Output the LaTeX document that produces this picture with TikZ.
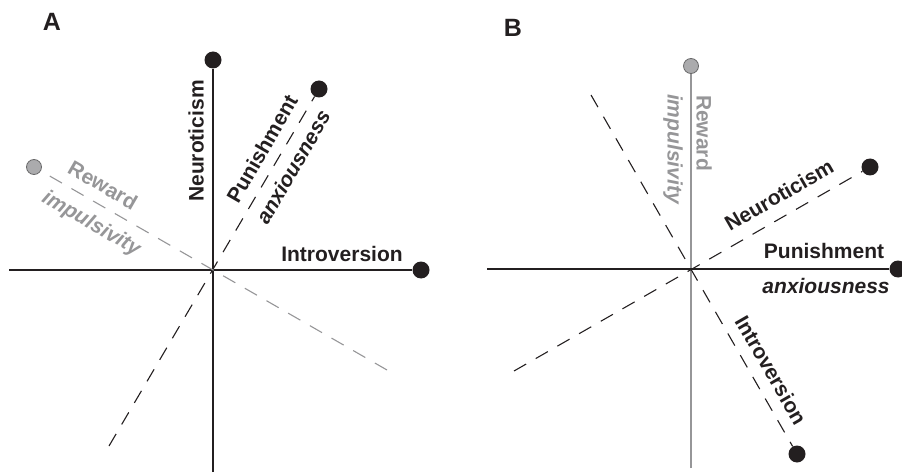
\documentclass[tikz,border=0pt]{standalone}
\usepackage{fontspec}
\setmainfont{Liberation Sans}
\usepackage{tikz}
\usetikzlibrary{positioning}
\definecolor{ink}{RGB}{35,31,32}
\definecolor{pale}{RGB}{150,150,152}
\tikzset{
    dot/.style={circle, fill=ink, inner sep=0pt, minimum size=17pt},
    greydot/.style={circle, fill=pale!80, draw=pale!70!black, line width=0.8pt, inner sep=0pt, minimum size=15pt},
    axisline/.style={draw=ink, line width=1.3pt},
    greyline/.style={draw=pale, line width=1.3pt},
    dashline/.style={draw=ink, line width=1.1pt, dash pattern=on 14pt off 11pt},
    greydash/.style={draw=pale, line width=1.1pt, dash pattern=on 14pt off 11pt},
    lbl/.style={font=\fontsize{21}{25}\selectfont\bfseries, text=ink, inner sep=0pt},
    greylbl/.style={lbl, text=pale},
    panel/.style={font=\fontsize{25}{30}\selectfont\bfseries, text=ink, inner sep=0pt}
}

\begin{document}
\begin{tikzpicture}[x=1pt, y=-1pt]
    \useasboundingbox (0,0) rectangle (902,473);

    % Panel A
    \node[panel] (pA) at (52,22) {A};
    \coordinate (oA) at (213,270);
    \node[dot] (neuA) at (213,60) {};
    \coordinate (neuAend) at (213,472);
    \node[dot] (intA) at (421,270) {};
    \coordinate (intAend) at (9,270);
    \node[dot] (punA) at (319,89) {};
    \coordinate (punAend) at (109,446);
    \node[greydot] (rewA) at (34,167) {};
    \coordinate (rewAend) at (387,370);

    % axes
    \draw[axisline] (neuAend) -- (neuA);
    \draw[axisline] (intAend) -- (intA);
    \draw[dashline] (punAend) -- (punA);
    \draw[greydash] (rewAend) -- (rewA);

    % labels
    \node[lbl, rotate=90] (neuAlbl) at (196,141) {Neuroticism};
    \node[lbl] (intAlbl) at (342,254) {Introversion};
    \node[lbl, rotate=60] (punAlbl) at (262,149) {Punishment};
    \node[lbl, rotate=60, font=\fontsize{21}{25}\selectfont\bfseries\itshape] (anxAlbl) at (293,167) {anxiousness};
    \node[greylbl, rotate=-30] (rewAlbl) at (103,185) {Reward};
    \node[greylbl, rotate=-30, font=\fontsize{21}{25}\selectfont\bfseries\itshape] (impAlbl) at (91,224) {impulsivity};

    % Panel B
    \node[panel] (pB) at (513,28) {B};
    \coordinate (oB) at (691,269);
    \node[greydot] (rewB) at (691,66) {};
    \coordinate (rewBend) at (691,468);
    \node[dot] (punB) at (898,269) {};
    \coordinate (punBend) at (487,269);
    \node[dot] (neuB) at (870,167) {};
    \coordinate (neuBend) at (514,371);
    \node[dot] (intB) at (797,454) {};
    \coordinate (intBend) at (591,95);

    % axes
    \draw[greyline] (rewBend) -- (rewB);
    \draw[axisline] (punBend) -- (punB);
    \draw[dashline] (neuBend) -- (neuB);
    \draw[dashline] (intBend) -- (intB);

    % labels
    \node[greylbl, rotate=-90] (rewBlbl) at (704,133) {Reward};
    \node[greylbl, rotate=-90, font=\fontsize{21}{25}\selectfont\bfseries\itshape] (impBlbl) at (673,149) {impulsivity};
    \node[lbl, rotate=30] (neuBlbl) at (779,195) {Neuroticism};
    \node[lbl] (punBlbl) at (824,251) {Punishment};
    \node[lbl, font=\fontsize{21}{25}\selectfont\bfseries\itshape] (anxBlbl) at (826,286) {anxiousness};
    \node[lbl, rotate=-60] (intBlbl) at (771,370) {Introversion};
\end{tikzpicture}
\end{document}
